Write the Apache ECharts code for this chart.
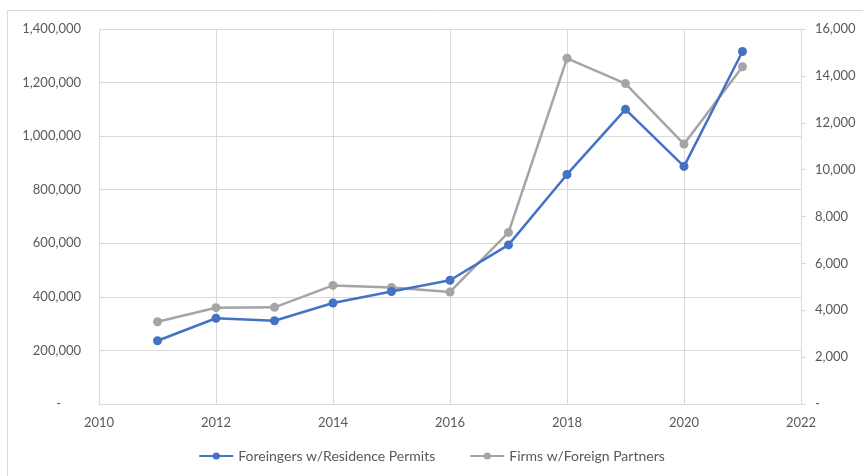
<!DOCTYPE html>
<html>
<head>
<meta charset="utf-8">
<script src="https://cdn.jsdelivr.net/npm/echarts@6/dist/echarts.min.js"></script>
<style>
  html, body { margin: 0; padding: 0; background: #fff; }
  #chart { width: 863px; height: 476px; }
</style>
</head>
<body>
<div id="chart"></div>
<script>
  const years = [2011, 2012, 2013, 2014, 2015, 2016, 2017, 2018, 2019, 2020, 2021];
  const residencePermits = [236000, 320000, 311000, 377000, 420000, 462000, 594000, 857000, 1100000, 887000, 1316000];
  const foreignFirms = [3510, 4110, 4125, 5060, 4975, 4780, 7320, 14750, 13670, 11090, 14390];

  const fontFamily = 'Lato, "Open Sans", sans-serif';
  const textColor = '#595959';
  const gridColor = '#d9d9d9';

  // Excel accounting style: zero shows as a dash
  const fmt = v => v === 0 ? '-' : v.toLocaleString('en-US');

  const chart = echarts.init(document.getElementById('chart'));
  chart.setOption({
    animation: false,
    textStyle: { fontFamily: fontFamily },
    graphic: [{
      type: 'rect',
      shape: { x: 7.5, y: 10.5, width: 900, height: 500 },
      style: { fill: 'none', stroke: gridColor, lineWidth: 1 },
      silent: true
    }],
    grid: { left: 99, right: 62, top: 29, bottom: 72 },
    legend: {
      bottom: 8,
      left: 'center',
      itemWidth: 34,
      itemHeight: 9,
      itemGap: 34,
      textStyle: { color: textColor, fontSize: 14, fontFamily: fontFamily },
      data: ['Foreingers w/Residence Permits', 'Firms w/Foreign Partners']
    },
    xAxis: {
      type: 'value',
      min: 2010,
      max: 2022,
      interval: 2,
      axisLine: { lineStyle: { color: gridColor } },
      axisTick: { show: false },
      axisLabel: { color: textColor, fontSize: 13, margin: 12, formatter: v => String(v) },
      splitLine: { show: true, lineStyle: { color: gridColor } }
    },
    yAxis: [{
      type: 'value',
      min: 0,
      max: 1400000,
      interval: 200000,
      axisLine: { show: true, lineStyle: { color: gridColor } },
      axisTick: { show: false },
      axisLabel: {
        color: textColor, fontSize: 13, margin: 18,
        formatter: v => v === 0 ? '-      ' : fmt(v)
      },
      splitLine: { show: true, lineStyle: { color: gridColor } }
    }, {
      type: 'value',
      min: 0,
      max: 16000,
      interval: 2000,
      position: 'right',
      axisLine: { show: true, lineStyle: { color: gridColor } },
      axisTick: { show: true, length: 5, lineStyle: { color: gridColor } },
      axisLabel: { color: textColor, fontSize: 13, margin: 14, formatter: fmt },
      splitLine: { show: false }
    }],
    series: [{
      name: 'Foreingers w/Residence Permits',
      type: 'line',
      yAxisIndex: 0,
      z: 3,
      symbol: 'circle',
      symbolSize: 9,
      lineStyle: { color: '#4472c4', width: 2.5 },
      itemStyle: { color: '#4472c4' },
      data: years.map((y, i) => [y, residencePermits[i]])
    }, {
      name: 'Firms w/Foreign Partners',
      type: 'line',
      yAxisIndex: 1,
      z: 2,
      symbol: 'circle',
      symbolSize: 9,
      lineStyle: { color: '#a5a5a5', width: 2.5 },
      itemStyle: { color: '#a5a5a5' },
      data: years.map((y, i) => [y, foreignFirms[i]])
    }]
  });
</script>
</body>
</html>
